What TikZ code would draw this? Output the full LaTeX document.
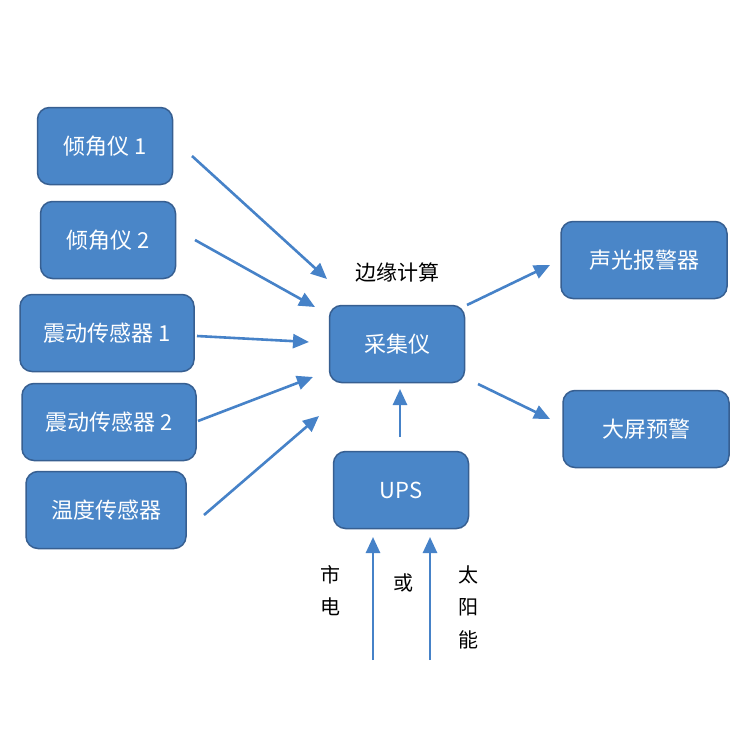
\documentclass[tikz,border=0pt]{standalone}
\usepackage{fontspec}
\setmainfont{Noto Sans CJK SC}
\usetikzlibrary{arrows.meta}
\definecolor{boxfill}{RGB}{74,134,200}
\definecolor{boxline}{RGB}{55,95,145}
\definecolor{arrowblue}{RGB}{70,130,200}
\tikzset{
  unit/.style={draw=boxline, line width=1.5pt, fill=boxfill, rounded corners=12pt,
    minimum width=135pt, minimum height=77pt, text=white, font=\fontsize{22}{26}\selectfont},
  wideunit/.style={unit, minimum width=174pt},
  flow/.style={draw=arrowblue, line width=2.6pt, -{Triangle[length=16pt,width=14pt]}},
  side/.style={font=\fontsize{20}{24}\selectfont}
}
\begin{document}
\begin{tikzpicture}[x=1pt,y=-1pt]
\useasboundingbox[fill=white] (0,0) rectangle (750,750);
\node[unit] (qj1) at (105,146) {倾角仪 1};
\node[unit] (qj2) at (108,240) {倾角仪 2};
\node[wideunit] (zd1) at (107,333) {震动传感器 1};
\node[wideunit] (zd2) at (109,422) {震动传感器 2};
\node[unit, minimum width=160pt] (wd) at (106,510) {温度传感器};
\node[unit] (cjy) at (397,344) {采集仪};
\node[unit] (ups) at (401,490) {UPS};
\node[unit, minimum width=166pt] (sg) at (644,260) {声光报警器};
\node[unit, minimum width=166pt] (dp) at (646,429) {大屏预警};
\node[side, font=\fontsize{21}{24}\selectfont] (byjs) at (397,272) {边缘计算};
\node[side] (sd1) at (330,575) {市};
\node[side] (sd2) at (330,607) {电};
\node[side] (huo) at (403,583) {或};
\node[side] (ty1) at (468,575) {太};
\node[side] (ty2) at (468,607) {阳};
\node[side] (ty3) at (468,640) {能};
\coordinate (s1) at (192,156); \coordinate (e1) at (327,279);
\coordinate (s2) at (195,240); \coordinate (e2) at (315,307);
\coordinate (s3) at (197,336); \coordinate (e3) at (309,342);
\coordinate (s4) at (198,421); \coordinate (e4) at (313,377);
\coordinate (s5) at (204,515); \coordinate (e5) at (319,416);
\coordinate (s6) at (400,437); \coordinate (e6) at (400,389);
\coordinate (s7) at (467,305); \coordinate (e7) at (550,265);
\coordinate (s8) at (478,384); \coordinate (e8) at (550,419);
\coordinate (s9) at (373,660); \coordinate (e9) at (373,537);
\coordinate (s10) at (430,660); \coordinate (e10) at (430,537);
\draw[flow] (s1) -- (e1);
\draw[flow] (s2) -- (e2);
\draw[flow] (s3) -- (e3);
\draw[flow] (s4) -- (e4);
\draw[flow] (s5) -- (e5);
\draw[flow] (s6) -- (e6);
\draw[flow] (s7) -- (e7);
\draw[flow] (s8) -- (e8);
\draw[flow] (s9) -- (e9);
\draw[flow] (s10) -- (e10);
\end{tikzpicture}
\end{document}
